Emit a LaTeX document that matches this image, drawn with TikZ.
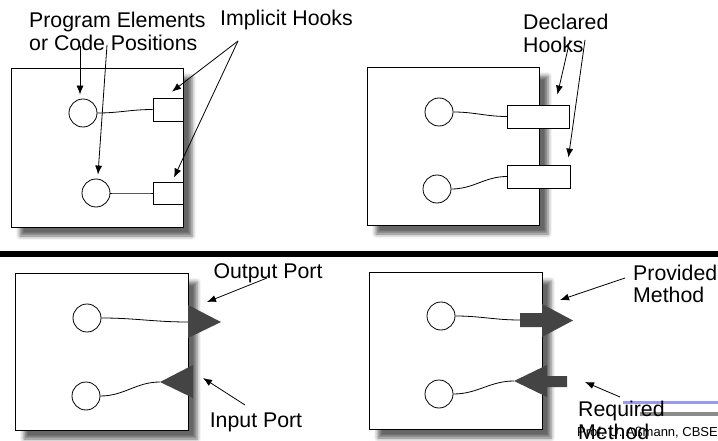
\documentclass[tikz,border=0pt]{standalone}
\usepackage{fontspec}
\setmainfont{Liberation Sans}
\usetikzlibrary{positioning, arrows.meta, shadows.blur}
\definecolor{portgray}{HTML}{444444}
\definecolor{barblue}{HTML}{9999EE}
\definecolor{bargray}{HTML}{8C8C8C}
\tikzset{
	component/.style={draw, rectangle, fill=white, line width=0.8pt, inner sep=0pt,
	blur shadow={shadow xshift=9pt, shadow yshift=-9pt, shadow blur radius=4pt, shadow opacity=60}},
	element/.style={draw, circle, minimum size=28pt, inner sep=0pt, line width=0.8pt},
	hook/.style={draw, rectangle, fill=white, inner sep=0pt, line width=0.8pt},
	wire/.style={line width=0.8pt},
	pointer/.style={-{Latex[length=9pt,width=7pt]}, line width=0.8pt},
	caption/.style={font=\fontsize{21.3}{22.5}\selectfont, align=left, inner sep=0pt}
}

\begin{document}
\begin{tikzpicture}[x=1pt, y=-1pt]
			
			\useasboundingbox (0,0) rectangle (718,441);
			\clip (0,0) rectangle (718,441);
			
			%Implicit hooks component
			\node (codeBox) at (97,147.5) [component, minimum width=172pt, minimum 
			height=159pt]{};
			\node (elemA) at (83,113) [element]{};
			\node (elemB) at (96,193) [element]{};
			\node (hookA) at (168,109.5) [hook, minimum width=30pt, minimum height=23pt]{};
			\node (hookB) at (168,193) [hook, minimum width=30pt, minimum height=22pt]{};
			\draw[wire] (elemA.east) to[out=0, in=180] (hookA.west);
			\draw[wire] (elemB.east) to[out=0, in=180] (hookB.west);
			
			%Labels
			\node (progLabel) at (29,31.5) [caption, anchor=west]{Program Elements\\or Code 
			Positions};
			\node (implicitLabel) at (286.5,26) [caption, anchor=base]{Implicit Hooks};
			\coordinate (progFromA) at (80,46);
			\coordinate (progFromB) at (107,45);
			\coordinate (implicitFrom) at (238,41);
			
			%Links
			\draw[pointer] (progFromA) -- ([shift={(-3,-4)}]elemA.north);
			\draw[pointer] (progFromB) -- ([shift={(2,-4)}]elemB.north);
			\draw[pointer] (implicitFrom) -- ([shift={(4,-6)}]hookA.north);
			\draw[pointer] (implicitFrom) -- ([shift={(6,-4)}]hookB.north);
			
			%Declared hooks component
			\node (declBox) at (453,146) [component, minimum width=172pt, minimum 
			height=158pt]{};
			\node (elemC) at (439,112) [element]{};
			\node (elemD) at (437,189) [element]{};
			\draw[wire] (elemC.east) to[out=0, in=180] (507,116.5) coordinate (hookCIn);
			\draw[wire] (elemD.east) to[out=0, in=180] (507,176.5) coordinate (hookDIn);
			\node (hookC) at (538,116.5) [hook, minimum width=62pt, minimum height=23pt]{};
			\node (hookD) at (538.5,176.5) [hook, minimum width=63pt, minimum height=23pt]{};
			
			%Labels
			\node (declLabel) at (523,33.5) [caption, anchor=west]{Declared\\Hooks};
			\coordinate (declFromA) at (570,40);
			\coordinate (declFromB) at (585,40);
			
			%Links
			\draw[pointer] (declFromA) -- ([shift={(-12,-10)}]hookC.north east);
			\draw[pointer] (declFromB) -- ([shift={(-2,-7)}]hookD.north east);
			
			%Separator
			\fill (0,251) rectangle (718,257);
			
			%Port component
			\node (portBox) at (101.5,351.5) [component, minimum width=173pt, minimum 
			height=157pt]{};
			\node (elemE) at (87,318) [element]{};
			\node (elemF) at (86,396) [element]{};
			\coordinate (outPort) at (188,322);
			\coordinate (inPort) at (160,382);
			\draw[wire] (elemE.east) to[out=0, in=180] (outPort);
			\draw[wire] (elemF.east) to[out=0, in=180] (inPort);
			\fill[portgray] (188,305) -- (221,322) -- (188,338) -- cycle;
			\fill[portgray] (193,365) -- (inPort) -- (193,398) -- cycle;
			
			%Labels
			\node (outLabel) at (268,278) [caption, anchor=base]{Output Port};
			\node (inLabel) at (256,427) [caption, anchor=base]{Input Port};
			\coordinate (outFrom) at (267,278);
			\coordinate (inFrom) at (245,405);
			
			%Links
			\draw[pointer] (outFrom) -- (207,302) coordinate (outTip);
			\draw[pointer] (inFrom) -- (203,378) coordinate (inTip);
			
			%Method component
			\node (methodBox) at (455.5,350.5) [component, minimum width=173pt, minimum 
			height=157pt]{};
			\node (elemG) at (441,316) [element]{};
			\node (elemH) at (439,394) [element]{};
			\coordinate (providedPort) at (520,320);
			\coordinate (requiredPort) at (514,381);
			\draw[wire] (elemG.east) to[out=0, in=180] (providedPort);
			\draw[wire] (elemH.east) to[out=0, in=180] (requiredPort);
			\fill[portgray] (520,313) -- (542,313) -- (542,304) -- (573,320.5) -- (542,337) -- 
			(542,327) -- (520,327) -- cycle;
			\fill[portgray] (requiredPort) -- (547,365) -- (547,376) -- (567,376) -- (567,387) -- 
			(547,387) -- (547,397) -- cycle;
			
			%Footer
			\fill[barblue] (623,401) rectangle (718,404);
			\fill[bargray] (640,412) rectangle (718,416);
			\node (footer) at (577,433) [anchor=west, inner sep=0pt, 
			font=\fontsize{13}{15}\selectfont]{Prof. U. Aßmann, CBSE};
			
			%Labels
			\node (provLabel) at (633,284) [caption, anchor=west]{Provided\\Method};
			\node (reqLabel) at (578,420.5) [caption, anchor=west]{Required\\Method};
			\coordinate (provFrom) at (625,278);
			\coordinate (reqFrom) at (620,397);
			
			%Links
			\draw[pointer] (provFrom) -- (560,300) coordinate (provTip);
			\draw[pointer] (reqFrom) -- (585,382) coordinate (reqTip);
			
\end{tikzpicture}
\end{document}
